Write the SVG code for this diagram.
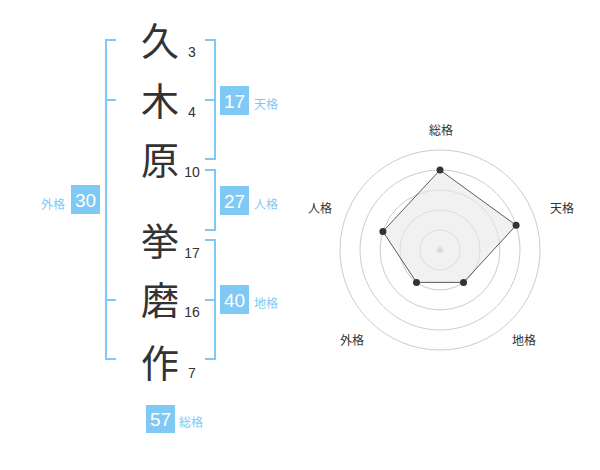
<svg xmlns="http://www.w3.org/2000/svg" width="600" height="470" viewBox="0 0 600 470">
<style>
.kanji{font-family:"Noto Sans CJK JP","Noto Sans CJK SC",sans-serif;font-size:38px;fill:#333;text-anchor:middle}
.num{font-family:"Liberation Sans",Arial,sans-serif;font-size:14px;fill:#333;text-anchor:middle}
.br{fill:none;stroke:#80c9f5;stroke-width:2}
.box{fill:#80c9f5}
.bt{font-family:"Liberation Sans",Arial,sans-serif;font-size:19px;fill:#fff;text-anchor:middle}
.lab{font-family:"Noto Sans CJK JP","Noto Sans CJK SC",sans-serif;font-size:12px;fill:#80c9f5}
.ring{fill:none;stroke:#cccccc;stroke-width:1}
.rl{font-family:"Noto Sans CJK JP","Noto Sans CJK SC",sans-serif;font-size:12px;fill:#333;text-anchor:middle}
.dot{fill:#333}
</style>
<g id="name">
<g id="c1"><text class="kanji" x="160" y="55">久</text><text class="num" x="192" y="57">3</text></g>
<g id="c2"><text class="kanji" x="160" y="115">木</text><text class="num" x="192" y="117">4</text></g>
<g id="c3"><text class="kanji" x="160" y="174">原</text><text class="num" x="192" y="177">10</text></g>
<g id="c4"><text class="kanji" x="160" y="255">挙</text><text class="num" x="192" y="258">17</text></g>
<g id="c5"><text class="kanji" x="160" y="314">磨</text><text class="num" x="192" y="317">16</text></g>
<g id="c6"><text class="kanji" x="160" y="377">作</text><text class="num" x="192" y="378">7</text></g>
</g>
<g id="connectors">
<path class="br" d="M116,40 H106 V359 H116 M106,100 H116 M106,300 H116"/>
<path class="br" d="M205,40 H215 V159 H205 M205,100 H215"/>
<path class="br" d="M205,170 H215 V230 H205"/>
<path class="br" d="M205,240 H215 V359 H205 M205,300 H215"/>
</g>
<g id="gaikaku"><rect class="box" x="71" y="185" width="29" height="29"/><text class="bt" x="85.5" y="206.5">30</text><text class="lab" x="41" y="208.5">外格</text></g>
<g id="tenkaku"><rect class="box" x="220" y="86" width="29" height="29"/><text class="bt" x="234.5" y="107.5">17</text><text class="lab" x="254" y="108.5">天格</text></g>
<g id="jinkaku"><rect class="box" x="220" y="186" width="29" height="29"/><text class="bt" x="234.5" y="207.5">27</text><text class="lab" x="254" y="208.5">人格</text></g>
<g id="chikaku"><rect class="box" x="220" y="285" width="29" height="29"/><text class="bt" x="234.5" y="306.5">40</text><text class="lab" x="254" y="307.5">地格</text></g>
<g id="soukaku"><rect class="box" x="146" y="405" width="29" height="28"/><text class="bt" x="160.5" y="426">57</text><text class="lab" x="179" y="426.5">総格</text></g>
<g id="radar">
<circle class="ring" cx="440" cy="250" r="20"/>
<circle class="ring" cx="440" cy="250" r="40"/>
<circle class="ring" cx="440" cy="250" r="60"/>
<circle class="ring" cx="440" cy="250" r="80"/>
<circle class="ring" cx="440" cy="250" r="100"/>
<circle cx="440" cy="250" r="3" fill="#c8c8c8"/>
<polygon points="440,170 516.1,225.3 463.5,282.4 416.5,282.4 382.9,231.5" fill="#e8e8e8" fill-opacity="0.6" stroke="#333" stroke-width="0.8"/>
<circle class="dot" cx="440" cy="170" r="3.5"/>
<circle class="dot" cx="516.1" cy="225.3" r="3.5"/>
<circle class="dot" cx="463.5" cy="282.4" r="3.5"/>
<circle class="dot" cx="416.5" cy="282.4" r="3.5"/>
<circle class="dot" cx="382.9" cy="231.5" r="3.5"/>
<text class="rl" x="441" y="135">総格</text>
<text class="rl" x="562" y="213">天格</text>
<text class="rl" x="524" y="345">地格</text>
<text class="rl" x="352" y="345">外格</text>
<text class="rl" x="320" y="213">人格</text>
</g>
</svg>
